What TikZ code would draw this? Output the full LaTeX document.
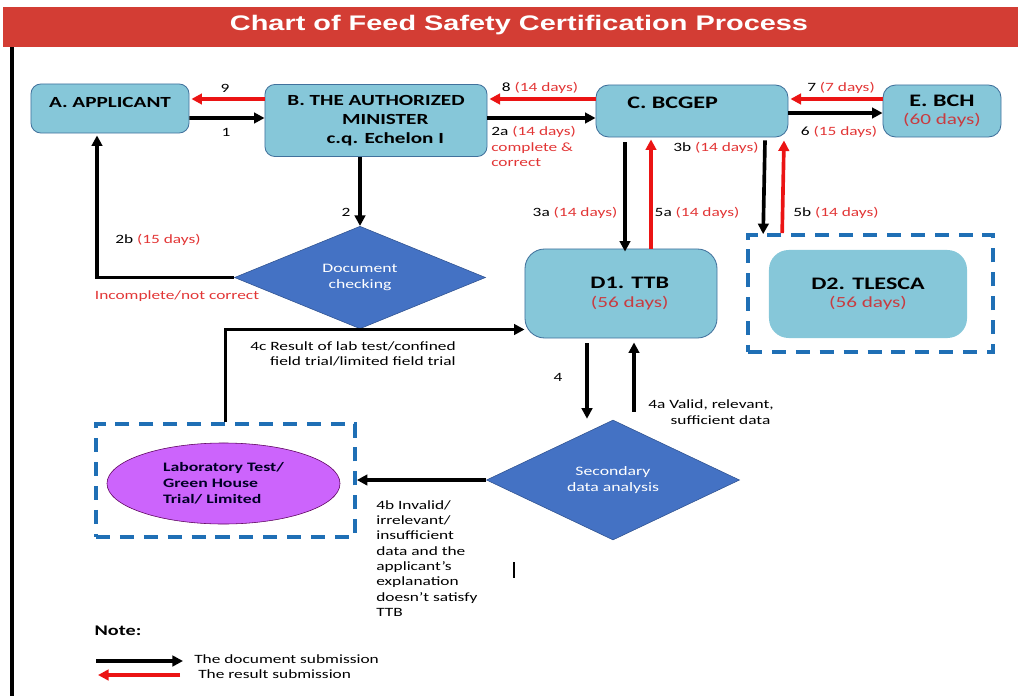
\documentclass[tikz,border=0pt]{standalone}
\usepackage{fontspec}
\setmainfont{Carlito}[FakeStretch=1.37]
\newfontfamily\titlefont{Liberation Sans}[FakeStretch=1.37]
\usepackage{xcolor}
\usepackage{tikz}
\usetikzlibrary{positioning,arrows.meta,calc,shapes.geometric}
\definecolor{barred}{RGB}{211,61,52}
\definecolor{boxblue}{RGB}{134,199,217}
\definecolor{boxline}{RGB}{65,113,156}
\definecolor{diablue}{RGB}{68,114,196}
\definecolor{dialine}{RGB}{47,82,143}
\definecolor{dashblue}{RGB}{31,111,181}
\definecolor{labviolet}{RGB}{204,100,252}
\definecolor{resred}{RGB}{235,20,20}
\definecolor{lblred}{RGB}{226,54,54}
\definecolor{boxred}{RGB}{200,60,65}
\newcommand{\dd}[1]{{\color{lblred}#1}}
\newcommand{\boxdays}[1]{{\normalfont\fontsize{11}{13}\selectfont\color{boxred}#1}}
\tikzset{
  chart/.style={x=0.025cm,y=-0.025cm,
    >={Triangle[length=7.5pt,width=7.5pt]},
    font=\fontsize{9}{11}\selectfont},
  stage/.style={rectangle,rounded corners=7pt,draw=boxline,fill=boxblue,
    semithick,align=center,inner sep=2pt,
    font=\bfseries\fontsize{11}{13.5}\selectfont},
  bigstage/.style={stage,rounded corners=14pt,
    font=\bfseries\fontsize{12.5}{15}\selectfont},
  check/.style={diamond,draw=dialine,fill=diablue,text=white,align=center,
    inner sep=0pt,font=\fontsize{9.2}{12}\selectfont},
  groupbox/.style={rectangle,draw=dashblue,line width=2.6pt,
    dash pattern=on 10pt off 7pt,inner sep=0pt},
  doc/.style={->,line width=2.6pt,black},
  res/.style={->,line width=2.6pt,resred},
  lbl/.style={inner sep=0pt}
}
\begin{document}
\begin{tikzpicture}[chart]
\useasboundingbox (0,0) rectangle (1018,696);
% title bar and left rule
\node[fill=barred,minimum width=25.375cm,minimum height=1cm,inner sep=0pt] (bar) at (510.5,27) {};
\node[text=white,font=\titlefont\bfseries\fontsize{15}{18}\selectfont] (title) at (519,25) {Chart of Feed Safety Certification Process};
\draw[line width=2.4pt] (bar.south west -| 12,0) -- (12,696);
% stages
\node[stage,minimum width=3.95cm,minimum height=1.225cm,text depth=8pt] (A) at (110,108.5) {A. APPLICANT};
\node[stage,minimum width=5.55cm,minimum height=1.8cm] (B) at (376,120.5) {B. THE AUTHORIZED\\\hspace*{1.2em}MINISTER\\\hspace*{1.2em}c.q. Echelon I};
\node[bigstage,minimum width=4.8cm,minimum height=1.3cm,rounded corners=9pt,text depth=12pt] (C) at (692,111) {\hspace*{-2.2em}C. BCGEP};
\node[bigstage,minimum width=2.95cm,minimum height=1.3cm,rounded corners=9pt] (E) at (942,111) {E. BCH\\[-2pt]\boxdays{(60 days)}};
\node[bigstage,minimum width=4.8cm,minimum height=2.225cm] (D1) at (621,293.5) {\hspace*{1em}D1. TTB\\[-2pt]\hspace*{1em}\boxdays{(56 days)}};
\node[groupbox,minimum width=6.125cm,minimum height=2.925cm] (tlescabox) at (870.5,293.5) {};
\node[bigstage,draw=none,minimum width=4.95cm,minimum height=2.2cm] (D2) at (868,294) {D2. TLESCA\\[-2pt]\boxdays{(56 days)}};
\node[check,minimum width=6.275cm,minimum height=1.925cm] (chk) at (360,277.5) {Document\\checking};
\node[check,minimum width=6.325cm,minimum height=2.6cm] (sda) at (613,480) {Secondary\\data analysis};
\node[groupbox,minimum width=6.475cm,minimum height=2.825cm] (labbox) at (225.5,480.5) {};
\node[ellipse,draw=violet!70!black,fill=labviolet,minimum width=5.825cm,minimum height=2.025cm,
  align=left,text=black!85!blue,font=\bfseries\fontsize{9.2}{11.5}\selectfont] (lab) at (223.5,483.5) {Laboratory Test/\\Green House\\Trial/ Limited};
% connectors
\draw[res] ($(B.west)+(0,-21.5)$) -- ($(A.east)+(2,-9.5)$);
\draw[doc] ($(A.east)+(0,9.5)$) -- ($(B.west)+(0,-2.5)$);
\draw[res] ($(C.west)+(0,-12)$) -- ($(B.east)+(2,-21.5)$);
\draw[doc] ($(B.east)+(0,-2.5)$) -- ($(C.west)+(0,7)$);
\draw[res] ($(E.west)+(0,-12)$) -- ($(C.east)+(2,-12)$);
\draw[doc] ($(C.east)+(0,2)$) -- ($(E.west)+(0,2)$);
\draw[doc] (B.south -| chk.north) -- (chk.north);
\draw[doc] (chk.west) -| ($(A.south)+(-13,2)$);
\draw[doc] ($(C.south)+(-67,5)$) -- ($(D1.north)+(4,3)$);
\draw[res] ($(D1.north)+(30,0)$) -- ($(C.south)+(-41,2)$);
\draw[doc] ($(C.south)+(73,3)$) -- ($(tlescabox.north west)+(17,1)$);
\draw[res] ($(tlescabox.north west)+(36,0)$) -- ($(C.south)+(92,3)$);
\draw[doc] ($(D1.south)+(-34,5)$) -- ($(sda.north)+(-26,-1)$);
\draw[doc] ($(sda.north)+(21,-8)$) -- ($(D1.south)+(13,4)$);
\draw[doc] (sda.west) -- (labbox.east |- sda.west);
\draw[doc] (labbox.north) |- ($(D1.west)+(0,36)$);
% labels
\node[lbl] (l9) at (225,88) {9};
\node[lbl] (l1) at (226,132) {1};
\node[lbl] (l8) at (540,88) {8 \dd{(14 days)}};
\node[lbl,anchor=north west,align=left] (l2a) at (491,126) {2a \dd{(14 days)}\\\dd{complete \&}\\\dd{correct}};
\node[lbl] (l7) at (841,88) {7 \dd{(7 days)}};
\node[lbl] (l6) at (839,132) {6 \dd{(15 days)}};
\node[lbl] (l2) at (346,212) {2};
\node[lbl] (l2b) at (158,240) {2b \dd{(15 days)}};
\node[lbl] (lbad) at (177,296) {\dd{Incomplete/not correct}};
\node[lbl] (l3a) at (575,213) {3a \dd{(14 days)}};
\node[lbl] (l5a) at (697,213) {5a \dd{(14 days)}};
\node[lbl] (l3b) at (716,148) {3b \dd{(14 days)}};
\node[lbl] (l5b) at (836,213) {5b \dd{(14 days)}};
\node[lbl] (l4) at (558,377) {4};
\node[lbl,align=center] (l4a) at (711,412) {4a Valid, relevant,\\\hspace*{1.5em}sufficient data};
\node[lbl,anchor=north east,align=right] (l4c) at (456,341) {4c Result of lab test/confined\\field trial/limited field trial};
\node[lbl,anchor=north west,align=left,font=\fontsize{9}{10.9}\selectfont] (l4b) at (376,500)
  {4b Invalid/\\irrelevant/\\insufficient\\data and the\\applicant's\\explanation\\doesn't satisfy\\TTB};
\draw[line width=0.8pt] (514,562) -- (514,578);
% note
\node[font=\bfseries\fontsize{10.5}{12}\selectfont] (note) at (118,631) {Note:};
\coordinate (ld1) at (96,661);
\coordinate (ld2) at (183,661);
\coordinate (lr1) at (180,675);
\coordinate (lr2) at (98,675);
\draw[doc] (ld1) -- (ld2);
\draw[res] (lr1) -- (lr2);
\node[lbl,anchor=west] (ldoc) at (194,659) {The document submission};
\node[lbl,anchor=west] (lres) at (198,674) {The result submission};
\end{tikzpicture}
\end{document}
